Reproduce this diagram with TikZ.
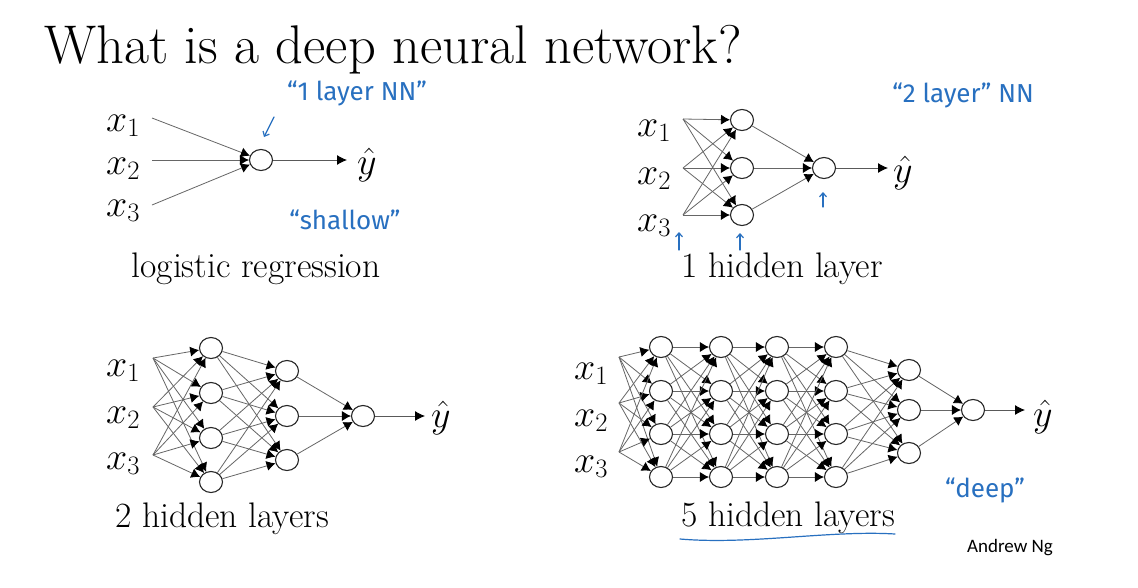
\RequirePackage{fix-cm}
\documentclass[tikz,border=0pt]{standalone}
\usepackage{fontspec}
\newfontfamily\handfont{Fira Sans}
\newfontfamily\signfont{Carlito}
\usetikzlibrary{arrows.meta,shapes.geometric}
\definecolor{pen}{RGB}{40,112,192}
\tikzset{
  neuron/.style={draw=black!85, ellipse, minimum width=23pt, minimum height=21pt, inner sep=0pt, line width=1.1pt},
  wire/.style={draw=black!60, line width=0.8pt, -{Latex[length=9pt,width=10pt,color=black]}},
  outwire/.style={draw=black!65, line width=0.9pt, -{Latex[length=10pt,width=10pt,color=black]}},
  xin/.style={font=\fontsize{38}{40}\selectfont, anchor=base west, inner sep=0pt},
  caption/.style={font=\fontsize{35.5}{40}\selectfont, anchor=base, inner sep=0pt},
  note/.style={font=\handfont\fontsize{26}{30}\selectfont, text=pen, inner sep=0pt},
  penarrow/.style={draw=pen, line width=1.2pt, line cap=round, -{Straight Barb[length=4pt,width=7pt]}}
}
\begin{document}
\begin{tikzpicture}[x=1pt,y=-1pt]
		%%%%% START %%%%%
		\useasboundingbox[fill=white] (0,0) rectangle (1138,587);
		
		\node[anchor=base west, inner sep=0pt, font=\fontsize{54.5}{60}\selectfont] (title) at (44,63) {What is a deep neural network?};
		
		%% logistic regression
		\foreach \i/\y in {1/118,2/160,3/205} \coordinate (a-i\i) at (152,\y);
		\node[neuron] (a-o) at (261,160) {};
		\foreach \i in {1,2,3} \draw[wire] (a-i\i) -- (a-o);
		\node[xin] (a-x1) at (106,131) {$x_1$};
		\node[xin] (a-x2) at (106,174) {$x_2$};
		\node[xin] (a-x3) at (106,216) {$x_3$};
		\node[xin] (a-yhat) at (357,174) {$\hat{y}$};
		\coordinate (a-end) at (347,160);
		\draw[outwire] (a-o) -- (a-end);
		\node[caption] (a-cap) at (256,277) {logistic regression};
		
		%% 1 hidden layer
		\foreach \i/\y in {1/119,2/168,3/215} \coordinate (b-i\i) at (683,\y);
		\foreach \j/\y in {1/120,2/168,3/215} \node[neuron] (b-h\j) at (742,\y) {};
		\node[neuron] (b-o) at (824,168) {};
		\foreach \i in {1,2,3} \foreach \j in {1,2,3} \draw[wire] (b-i\i) -- (b-h\j);
		\foreach \j in {1,2,3} \draw[wire] (b-h\j) -- (b-o);
		\node[xin] (b-x1) at (637,136) {$x_1$};
		\node[xin] (b-x2) at (637,184) {$x_2$};
		\node[xin] (b-x3) at (637,231) {$x_3$};
		\node[xin] (b-yhat) at (893,182) {$\hat{y}$};
		\coordinate (b-end) at (888,168);
		\draw[outwire] (b-o) -- (b-end);
		\node[caption] (b-cap) at (782,277) {1 hidden layer};
		
		%% 2 hidden layers
		\foreach \i/\y in {1/358,2/407,3/455} \coordinate (c-i\i) at (153,\y);
		\foreach \j/\y in {1/348,2/393,3/438,4/482} \node[neuron] (c-h\j) at (211,\y) {};
		\foreach \k/\y in {1/371,2/416,3/460} \node[neuron] (c-g\k) at (287,\y) {};
		\node[neuron] (c-o) at (363,416) {};
		\foreach \i in {1,2,3} \foreach \j in {1,...,4} \draw[wire] (c-i\i) -- (c-h\j);
		\foreach \j in {1,...,4} \foreach \k in {1,2,3} \draw[wire] (c-h\j) -- (c-g\k);
		\foreach \k in {1,2,3} \draw[wire] (c-g\k) -- (c-o);
		\node[xin] (c-x1) at (106,376) {$x_1$};
		\node[xin] (c-x2) at (106,423) {$x_2$};
		\node[xin] (c-x3) at (106,469) {$x_3$};
		\node[xin] (c-yhat) at (431,427) {$\hat{y}$};
		\coordinate (c-end) at (425,416);
		\draw[outwire] (c-o) -- (c-end);
		\node[caption] (c-cap) at (222,527) {2 hidden layers};
		
		%% 5 hidden layers
		\foreach \i/\y in {1/357,2/403,3/452} \coordinate (d-i\i) at (619,\y);
		\foreach \l/\x in {1/661,2/721,3/777,4/836}
		  \foreach \j/\y in {1/347,2/391,3/434,4/477} \node[neuron] (d-\l-\j) at (\x,\y) {};
		\foreach \k/\y in {1/370,2/410,3/453} \node[neuron] (d-5-\k) at (909,\y) {};
		\node[neuron] (d-o) at (973,410) {};
		\foreach \i in {1,2,3} \foreach \j in {1,...,4} \draw[wire] (d-i\i) -- (d-1-\j);
		\foreach \l/\m in {1/2,2/3,3/4}
		  \foreach \j in {1,...,4} \foreach \k in {1,...,4} \draw[wire] (d-\l-\j) -- (d-\m-\k);
		\foreach \j in {1,...,4} \foreach \k in {1,2,3} \draw[wire] (d-4-\j) -- (d-5-\k);
		\foreach \k in {1,2,3} \draw[wire] (d-5-\k) -- (d-o);
		\node[xin] (d-x1) at (574,379) {$x_1$};
		\node[xin] (d-x2) at (574,426) {$x_2$};
		\node[xin] (d-x3) at (574,472) {$x_3$};
		\node[xin] (d-yhat) at (1033,426) {$\hat{y}$};
		\coordinate (d-end) at (1025,410);
		\draw[outwire] (d-o) -- (d-end);
		\node[caption] (d-cap) at (788,526) {5 hidden layers};
		
		%% pen notes
		\node[note] (n-one) at (357,93) {“1 layer NN”};
		\coordinate (n-one-a) at (274,117); \coordinate (n-one-b) at (264,137);
		\draw[penarrow] (n-one-a) -- (n-one-b);
		\node[note] (n-shallow) at (345,220) {“shallow”};
		\node[note] (n-two) at (963,95) {“2 layer” NN};
		\coordinate (n-p1) at (679,250); \coordinate (n-q1) at (679,232);
		\coordinate (n-p2) at (740,250); \coordinate (n-q2) at (740,233);
		\coordinate (n-p3) at (823,207); \coordinate (n-q3) at (823,192);
		\foreach \i in {1,2,3} \draw[penarrow] (n-p\i) -- (n-q\i);
		\node[note] (n-deep) at (985,490) {“deep”};
		\coordinate (u-a) at (680,539); \coordinate (u-b) at (895,534);
		\draw[draw=pen, line width=1.2pt, line cap=round] (u-a) .. controls (750,545) and (830,530) .. (u-b);
		
		\node[font=\signfont\fontsize{19}{22}\selectfont, inner sep=0pt] (sign) at (1010,548) {Andrew Ng};
		%%%%% END %%%%%
	\end{tikzpicture}
\end{document}
